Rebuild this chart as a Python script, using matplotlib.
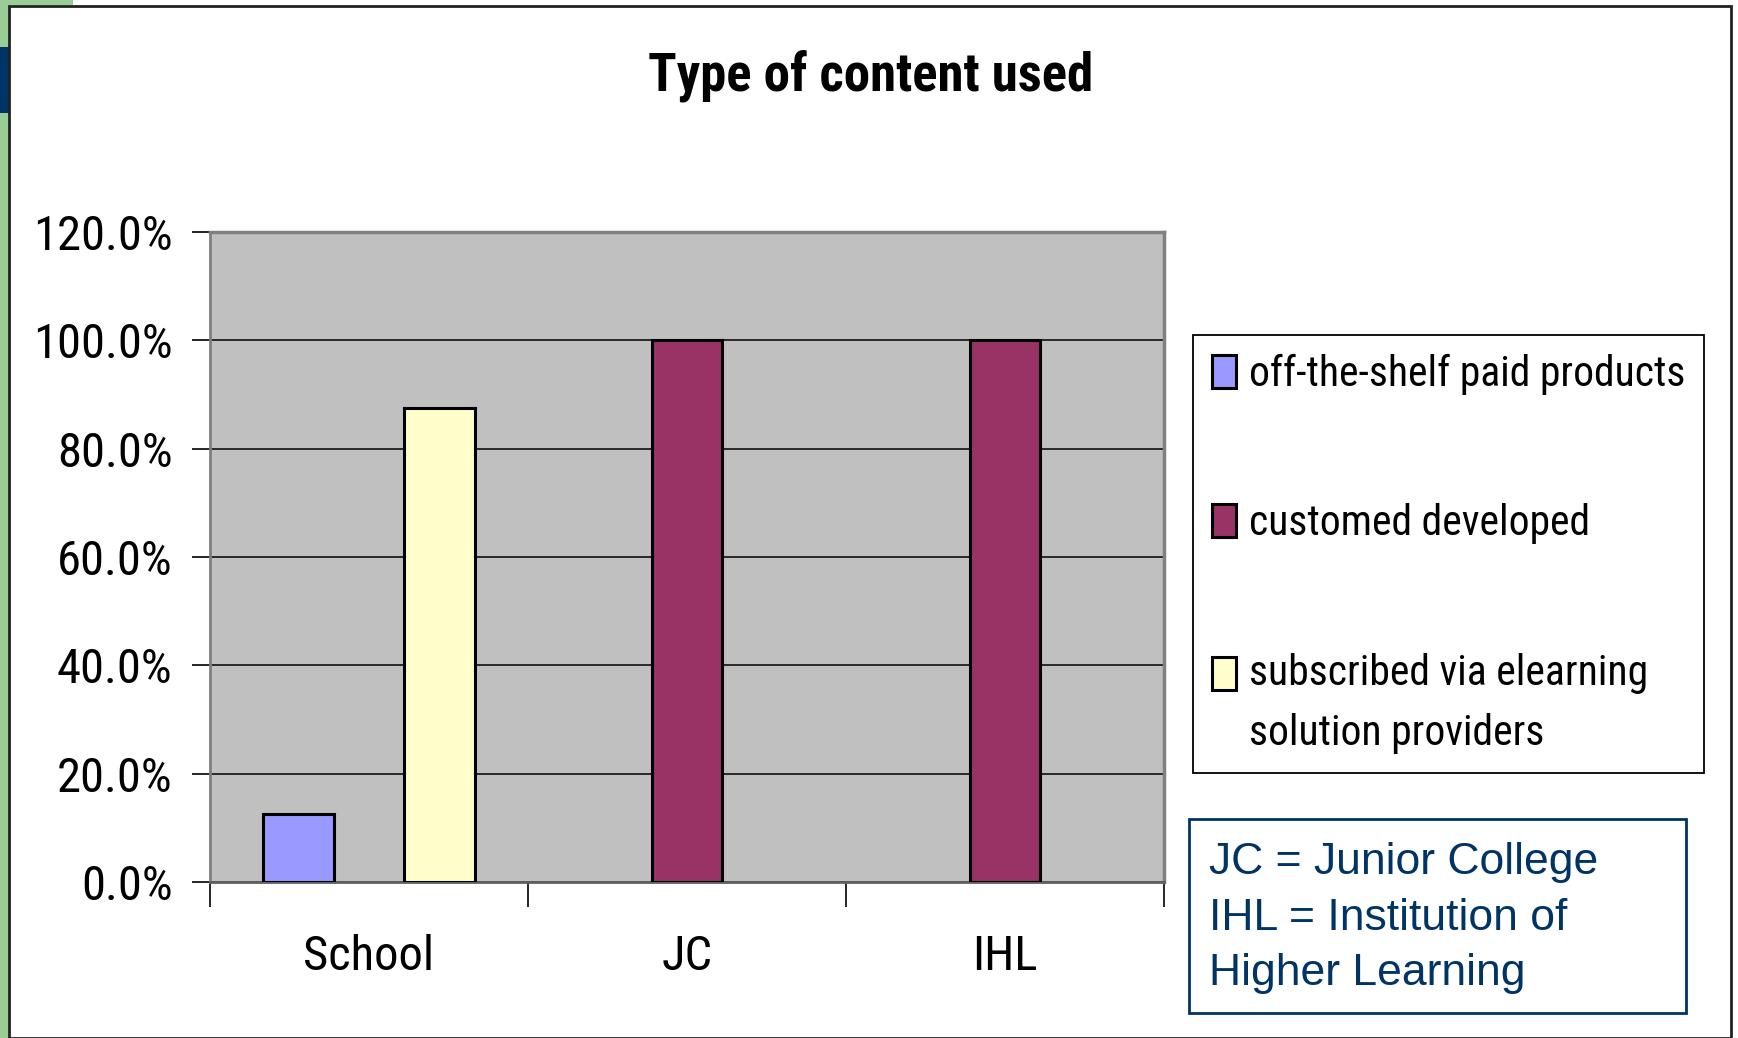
import numpy as np
import matplotlib.pyplot as plt
from matplotlib.patches import Rectangle
from matplotlib.legend_handler import HandlerPatch
from matplotlib.ticker import FuncFormatter, FixedLocator

# data
categories = ['School', 'JC', 'IHL']
series_names = ['off-the-shelf paid products', 'customed developed',
                'subscribed via elearning\nsolution providers']
off_shelf = [12.5, 0, 0]
custom_dev = [0, 100, 100]
subscribed = [87.5, 0, 0]
colors = ['#9999FF', '#993366', '#FFFFCC']

narrow = ['Roboto Condensed', 'DejaVu Sans']
W, H = 1738, 1038
fig = plt.figure(figsize=(W / 100, H / 100), dpi=100)
fig.patch.set_facecolor('white')

# slide decorations on the left edge and outer frame
fig.patches.append(Rectangle((0, 0), 9 / W, 1, transform=fig.transFigure,
                             facecolor='#9ACD95', edgecolor='none', zorder=0))
fig.patches.append(Rectangle((0, 1 - 5 / H), 73 / W, 5 / H, transform=fig.transFigure,
                             facecolor='#9ACD95', edgecolor='none', zorder=0))
fig.patches.append(Rectangle((0, 1 - 113 / H), 9 / W, 66 / H, transform=fig.transFigure,
                             facecolor='#003366', edgecolor='none', zorder=1))
fig.patches.append(Rectangle((9 / W, 0), 1722 / W, 1 - 6 / H, transform=fig.transFigure,
                             facecolor='none', edgecolor='#222222', linewidth=2, zorder=2))

ax = fig.add_axes([210 / W, 1 - 882 / H, 954 / W, 650 / H])
ax.set_facecolor('#C0C0C0')

x = np.arange(len(categories))
w = 0.222
for i, (vals, col) in enumerate(zip([off_shelf, custom_dev, subscribed], colors)):
    vals = np.array(vals, dtype=float)
    xs = x + (i - 1) * w
    mask = vals > 0
    ax.bar(xs[mask], vals[mask], width=w, color=col, edgecolor='black',
           linewidth=2.2, zorder=3)

ax.set_xlim(-0.5, 2.5)
ax.set_ylim(0, 120)
ax.set_yticks(np.arange(0, 121, 20))
ax.yaxis.set_major_formatter(FuncFormatter(lambda v, p: f'{v:.1f}%'))
ax.grid(axis='y', color='black', linewidth=1.1, zorder=1)
ax.set_axisbelow(True)

ax.xaxis.set_major_locator(FixedLocator([-0.5, 0.5, 1.5, 2.5]))
ax.xaxis.set_major_formatter(FuncFormatter(lambda v, p: ''))
ax.tick_params(axis='x', direction='out', length=18, width=1.2, colors='black')
ax.tick_params(axis='y', direction='out', length=13, width=1.2, pad=14,
               labelsize=35)
for lab in ax.get_yticklabels():
    lab.set_family(narrow)
for xi, c in zip(x, categories):
    ax.text(xi, -13.8, c, ha='center', va='center', fontsize=35, family=narrow)

for s in ['top', 'right']:
    ax.spines[s].set_color('#808080')
    ax.spines[s].set_linewidth(2.5)
ax.spines['left'].set_color('#808080')
ax.spines['left'].set_linewidth(2)
ax.spines['bottom'].set_color('#606060')
ax.spines['bottom'].set_linewidth(2)

fig.text(871 / W, 1 - 76 / H, 'Type of content used', ha='center', va='center',
         fontsize=38, fontweight='bold', family=narrow)


class FirstLinePatch(HandlerPatch):
    # keeps the swatch level with the first line of a two-line label
    def __init__(self, lift=0.0, **kw):
        super().__init__(**kw)
        self.lift = lift

    def create_artists(self, legend, orig_handle, xdescent, ydescent,
                       width, height, fontsize, trans):
        return super().create_artists(legend, orig_handle, xdescent,
                                      ydescent - self.lift * fontsize,
                                      width, height, fontsize, trans)


# legend
handles = [Rectangle((0, 0), 1, 1, facecolor=c, edgecolor='black', linewidth=2.2)
           for c in colors]
leg = fig.legend(handles, series_names, loc='upper left',
                 bbox_to_anchor=(1193 / W, 1 - 335 / H), frameon=True,
                 fancybox=False, edgecolor='black', framealpha=1,
                 prop={'family': narrow, 'size': 30}, labelspacing=2.6,
                 handlelength=0.57, handleheight=0.84, handletextpad=0.33,
                 borderpad=0.45, borderaxespad=0,
                 handler_map={handles[2]: FirstLinePatch(lift=0.76)})
for t in leg.get_texts():
    t.set_linespacing(1.6)
leg.get_frame().set_linewidth(1.3)

# abbreviation note
fig.patches.append(Rectangle((1189 / W, 1 - 1013 / H), 497 / W, 194 / H,
                             transform=fig.transFigure, facecolor='white',
                             edgecolor='#003366', linewidth=2, zorder=2))
fig.text(1209 / W, 1 - 918 / H,
         'JC = Junior College\nIHL = Institution of\nHigher Learning',
         ha='left', va='center', fontsize=32, color='#003366',
         family=['Liberation Sans', 'DejaVu Sans'], linespacing=1.45)

fig.savefig('out.png', dpi=100)
